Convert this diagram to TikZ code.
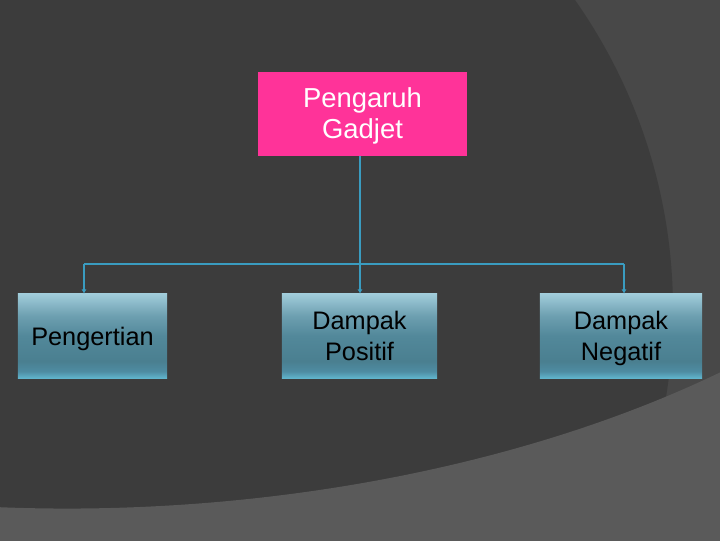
\documentclass[tikz,border=0pt]{standalone}
\usepackage{fontspec}
\setmainfont{Liberation Sans}
\usetikzlibrary{arrows.meta}

\definecolor{bgdark}{HTML}{3C3C3C}
\definecolor{bgmid}{HTML}{484848}
\definecolor{bglight}{HTML}{5A5A5A}
\definecolor{gadjetpink}{HTML}{FF3399}
\definecolor{linkblue}{HTML}{3A9CC0}
\definecolor{boxtop}{HTML}{A0CCDA}
\definecolor{boxup}{HTML}{6D9FB0}
\definecolor{boxmid}{HTML}{52889A}
\definecolor{boxdark}{HTML}{4A7F90}
\definecolor{boxlow}{HTML}{4E8CA2}
\definecolor{boxbot}{HTML}{60B4CC}

\pgfdeclareverticalshading{tealbox}{100bp}{color(0bp)=(boxbot); color(25bp)=(boxbot);
  color(29bp)=(boxlow); color(35bp)=(boxdark); color(50bp)=(boxmid);
  color(62bp)=(boxup); color(75bp)=(boxtop); color(100bp)=(boxtop)}

\begin{document}
\begin{tikzpicture}[x=0.025cm, y=-0.025cm,
                    top node/.style={rectangle,fill=gadjetpink,text=white,inner sep=0pt,
                      minimum width=5.225cm,minimum height=2.1cm,align=center,
                      font=\fontsize{19.5}{22.5}\selectfont,
                      execute at begin node={\rule{0pt}{41.8pt}},execute at end node=\strut},
                    sub node/.style={rectangle,shade,shading=tealbox,text=black,inner sep=0pt,
                      minimum height=2.1cm,align=center,font=\fontsize{18}{21.5}\selectfont,
                      execute at begin node={\rule{0pt}{19.3pt}},execute at end node=\strut},
                    two lines/.style={execute at begin node={\rule{0pt}{40.8pt}}},
                    line/.style={every edge/.style={draw=linkblue,line width=0.8pt}},
                    arrowtip/.style={-{Latex[length=3pt,width=3.5pt]}}]

  \useasboundingbox (0,0) rectangle (720,540);

  % background
  \begin{scope}
    \clip (-5,-5) rectangle (725,545);
    \fill[bgmid] (-5,-5) rectangle (725,545);
    \fill[bgdark] (134,310) circle [radius=539];
    \fill[bglight] (-5,507) .. controls (250,518) and (520,470) .. (725,370)
      -- (725,545) -- (-5,545) -- cycle;
  \end{scope}

  \node[top node] (1) at (362.5,114) {Pengaruh\\Gadjet};
  \node[sub node,minimum width=3.725cm] (2) at (92.5,336) {Pengertian};
  \node[sub node,two lines,minimum width=3.875cm] (3) at (359.5,336) {Dampak\\Positif};
  \node[sub node,two lines,minimum width=4.05cm] (4) at (621,336) {Dampak\\Negatif};
  \coordinate (5) at (84,264);
  \coordinate (6) at (624,264);
  \coordinate (7) at (360,264);

\path[line]
       (7 |- 1.south) edge (7)
       (5) edge (6)
       (5) edge[arrowtip] (5 |- 2.north)
       (7) edge[arrowtip] (7 |- 3.north)
       (6) edge[arrowtip] (6 |- 4.north)
  ;

\end{tikzpicture}
\end{document}
